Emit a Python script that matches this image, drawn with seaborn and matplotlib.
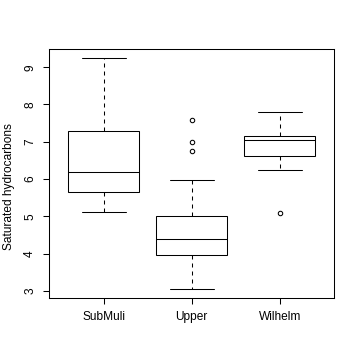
import matplotlib
matplotlib.use("Agg")
import matplotlib.pyplot as plt
import seaborn as sns
import pandas as pd

# Data (estimated from the reference boxplots)
sites = ["SubMuli", "Upper", "Wilhelm"]
submuli = [5.11, 5.40, 5.65, 5.90, 6.18, 6.80, 7.29, 8.20, 9.24]
upper = [3.06, 3.40, 3.70, 3.85, 3.96, 4.10, 4.20, 4.30, 4.39,
         4.50, 4.70, 4.85, 5.00, 5.97, 6.74, 7.00, 7.57]
wilhelm = [5.10, 6.24, 6.61, 6.90, 7.05, 7.10, 7.15, 7.50, 7.80]
yticks = [3, 4, 5, 6, 7, 8, 9]
ylabel = "Saturated hydrocarbons"

df = pd.DataFrame({
    "site": [sites[0]] * len(submuli) + [sites[1]] * len(upper) + [sites[2]] * len(wilhelm),
    "value": submuli + upper + wilhelm,
})

sns.set_theme(style="white")
plt.rcParams["font.family"] = ["Liberation Sans", "DejaVu Sans"]

fig = plt.figure(figsize=(3.6, 3.6), dpi=100)
ax = fig.add_axes([49 / 360, 1 - 298.3 / 360, (334.3 - 49) / 360, (298.3 - 49.3) / 360])

lw = 0.75
sns.boxplot(
    data=df, x="site", y="value", order=sites, ax=ax,
    width=0.8, color="white", linecolor="black", linewidth=lw,
    whis=1.5, fliersize=3.2, saturation=1,
    flierprops=dict(marker="o", markerfacecolor="none", markeredgecolor="black",
                    markeredgewidth=0.75),
    whiskerprops=dict(linestyle=(0, (3.84, 3.84)), color="black", linewidth=lw),
    capprops=dict(color="black", linewidth=lw),
    medianprops=dict(color="black", linewidth=lw),
    capwidths=0.5,
)

ax.set_xlim(-0.62, 2.62)
ax.set_ylim(2.80, 9.48)
ax.set_yticks(yticks)
ax.set_yticklabels([str(t) for t in yticks], rotation=90, va="center")
ax.set_xlabel("")
ax.set_ylabel(ylabel, fontsize=8.6, color="black")
ax.yaxis.set_label_coords(-0.12, 0.447)

for s in ax.spines.values():
    s.set_visible(True)
    s.set_color("black")
    s.set_linewidth(lw)

ax.tick_params(axis="both", which="major", length=4.3, width=lw, color="black",
               labelsize=8.6, labelcolor="black", direction="out",
               left=True, bottom=True)
ax.tick_params(axis="y", pad=5)
ax.tick_params(axis="x", pad=5)

fig.savefig("out.png", dpi=100, facecolor="white")
